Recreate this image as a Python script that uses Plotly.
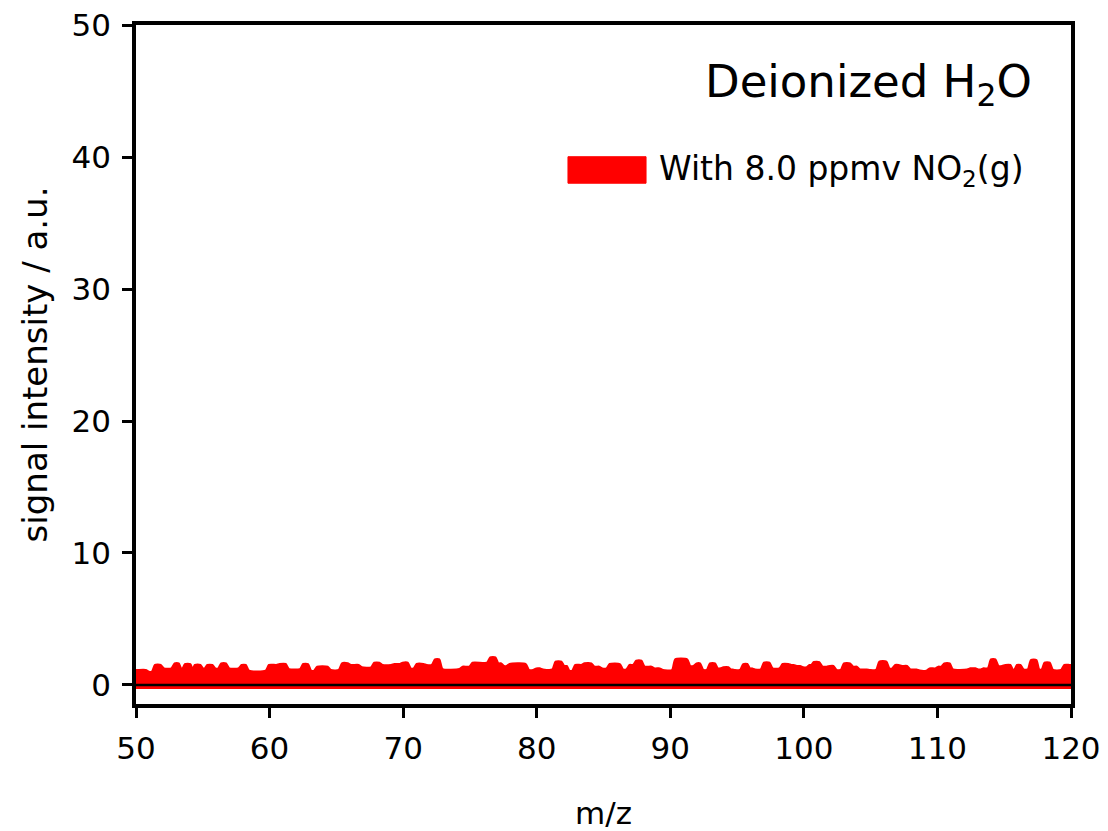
import plotly.graph_objects as go

# bump start positions (m/z) and envelope heights (a.u.)
mz_start = [50.0, 50.85, 51.30, 51.97, 52.77, 53.32, 53.54, 54.19, 54.29, 54.94, 55.22, 55.84,
            56.26, 56.86, 57.79, 58.34, 59.83, 60.63, 61.33, 62.40, 63.0, 63.45,
            64.47, 65.30, 65.97, 66.79, 67.72, 68.34, 69.22, 69.84, 70.46, 70.89, 71.64,
            72.26, 72.83, 74.33, 75.08, 76.40, 77.03, 77.45,
            77.85, 79.30, 79.85, 80.35, 81.29, 81.97, 82.34, 82.77, 83.46, 84.21, 84.79,
            85.34, 86.34, 86.83, 87.33, 87.96, 88.71, 89.33, 90.25, 91.38,
            91.85, 92.35, 92.85, 93.47, 93.85, 94.47, 94.72, 95.34, 95.89, 96.22, 96.89,
            97.54, 98.29, 98.96, 99.34, 99.84, 100.34, 100.63, 101.28, 101.83, 102.33,
            102.88, 103.58, 104.08, 104.83, 105.53,
            106.30, 106.72, 107.22, 107.85, 108.55, 109.29, 109.97, 110.39, 111.04,
            112.34, 112.96, 113.34, 113.89, 114.46, 114.96, 115.58, 115.83, 116.33,
            116.88, 117.53, 117.90, 118.53, 119.38]
intensity = [1.14, 1.01, 1.52, 1.26, 1.64, 1.26, 1.59, 1.26, 1.52, 1.26, 1.52, 1.26,
             1.64, 1.26, 1.52, 1.09, 1.52, 1.59, 1.21, 1.59, 1.09, 1.39,
             1.14, 1.64, 1.52, 1.34, 1.69, 1.52, 1.59, 1.69, 1.26, 1.59, 1.52,
             1.94, 1.21, 1.39, 1.69, 2.10, 1.64, 1.44,
             1.59, 1.14, 1.26, 1.18, 1.77, 1.44, 1.09, 1.52, 1.64, 1.39, 1.26,
             1.59, 1.18, 1.52, 1.84, 1.39, 1.26, 1.14, 1.94, 1.44,
             1.64, 1.14, 1.64, 1.26, 1.34, 1.18, 1.14, 1.59, 1.26, 1.18, 1.69,
             1.26, 1.59, 1.52, 1.44, 1.34, 1.52, 1.74, 1.39, 1.44, 1.14,
             1.64, 1.39, 1.18, 1.14, 1.77,
             1.26, 1.52, 1.44, 1.18, 1.09, 1.26, 1.39, 1.64, 1.18,
             1.26, 1.18, 1.26, 1.94, 1.44, 1.52, 1.18, 1.52, 1.18,
             1.89, 1.18, 1.69, 1.14, 1.52]
mz_end = 120.0
baseline = -0.3

x_ticks = [50, 60, 70, 80, 90, 100, 110, 120]
y_ticks = [0, 10, 20, 30, 40, 50]

series_name = "With 8.0 ppmv NO<sub>2</sub>(g)"
title_text = "Deionized H<sub>2</sub>O"
x_title = "m/z"
y_title = "signal intensity / a.u."

FONT = "DejaVu Sans"
RED = "#ff0000"

# rounded envelope: each bump becomes a plateau with slightly inset shoulders
edges = mz_start + [mz_end]
env_x, env_y = [], []
for i, v in enumerate(intensity):
    a, b = edges[i], edges[i + 1]
    d = min(0.12, (b - a) / 4)
    env_x += [a + d, b - d]
    env_y += [v, v]
env_x = [mz_start[0]] + env_x + [mz_end]
env_y = [intensity[0]] + env_y + [intensity[-1]]

fig = go.Figure()
fig.add_trace(go.Scatter(x=[mz_start[0], mz_end], y=[baseline, baseline], mode="lines",
                         line=dict(width=0, color=RED), showlegend=False, hoverinfo="skip"))
fig.add_trace(go.Scatter(x=env_x, y=env_y, mode="lines",
                         line=dict(width=2, color=RED, shape="spline", smoothing=0.6), fill="tonexty",
                         fillcolor=RED, name=series_name, showlegend=False))

# zero line on top of the data
fig.add_shape(type="line", xref="paper", yref="y", x0=0, x1=1, y0=0, y1=0,
              line=dict(color="black", width=2.5), layer="above")

# legend swatch and text
fig.add_shape(type="rect", xref="paper", yref="paper", x0=0.462, x1=0.5455, y0=0.767, y1=0.806,
              fillcolor=RED, line=dict(color=RED, width=1), layer="above")
fig.add_annotation(text=series_name, xref="paper", yref="paper", x=0.557, y=0.786,
                   xanchor="left", yanchor="middle", showarrow=False,
                   font=dict(family=FONT, size=33, color="black"))
fig.add_annotation(text=title_text, xref="paper", yref="paper", x=0.960, y=0.913,
                   xanchor="right", yanchor="middle", showarrow=False,
                   font=dict(family=FONT, size=45, color="black"))
# x axis title
fig.add_annotation(text=x_title, xref="paper", yref="paper", x=0.5, y=-0.16,
                   xanchor="center", yanchor="middle", showarrow=False,
                   font=dict(family=FONT, size=31, color="black"))

axis_common = dict(showline=True, linewidth=3.5, linecolor="black", mirror=True,
                   ticks="outside", ticklen=10, tickwidth=2.5, tickcolor="black",
                   showgrid=False, zeroline=False, ticklabeloverflow="allow", automargin=False,
                   tickfont=dict(family=FONT, size=31, color="black"))

fig.update_xaxes(range=[50, 120], tickvals=x_ticks, ticktext=[str(v) for v in x_ticks],
                 ticklabelstandoff=4, **axis_common)
fig.update_yaxes(range=[-1.44, 50], tickvals=y_ticks, ticktext=[str(v) for v in y_ticks],
                 title=dict(text=y_title, font=dict(family=FONT, size=34, color="black")),
                 ticklabelstandoff=5, **axis_common)

fig.update_layout(width=1100, height=823, margin=dict(l=128, r=37, t=17, b=127),
                  plot_bgcolor="white", paper_bgcolor="white", showlegend=False,
                  font=dict(family=FONT, color="black"))

fig.write_html("out.html")
